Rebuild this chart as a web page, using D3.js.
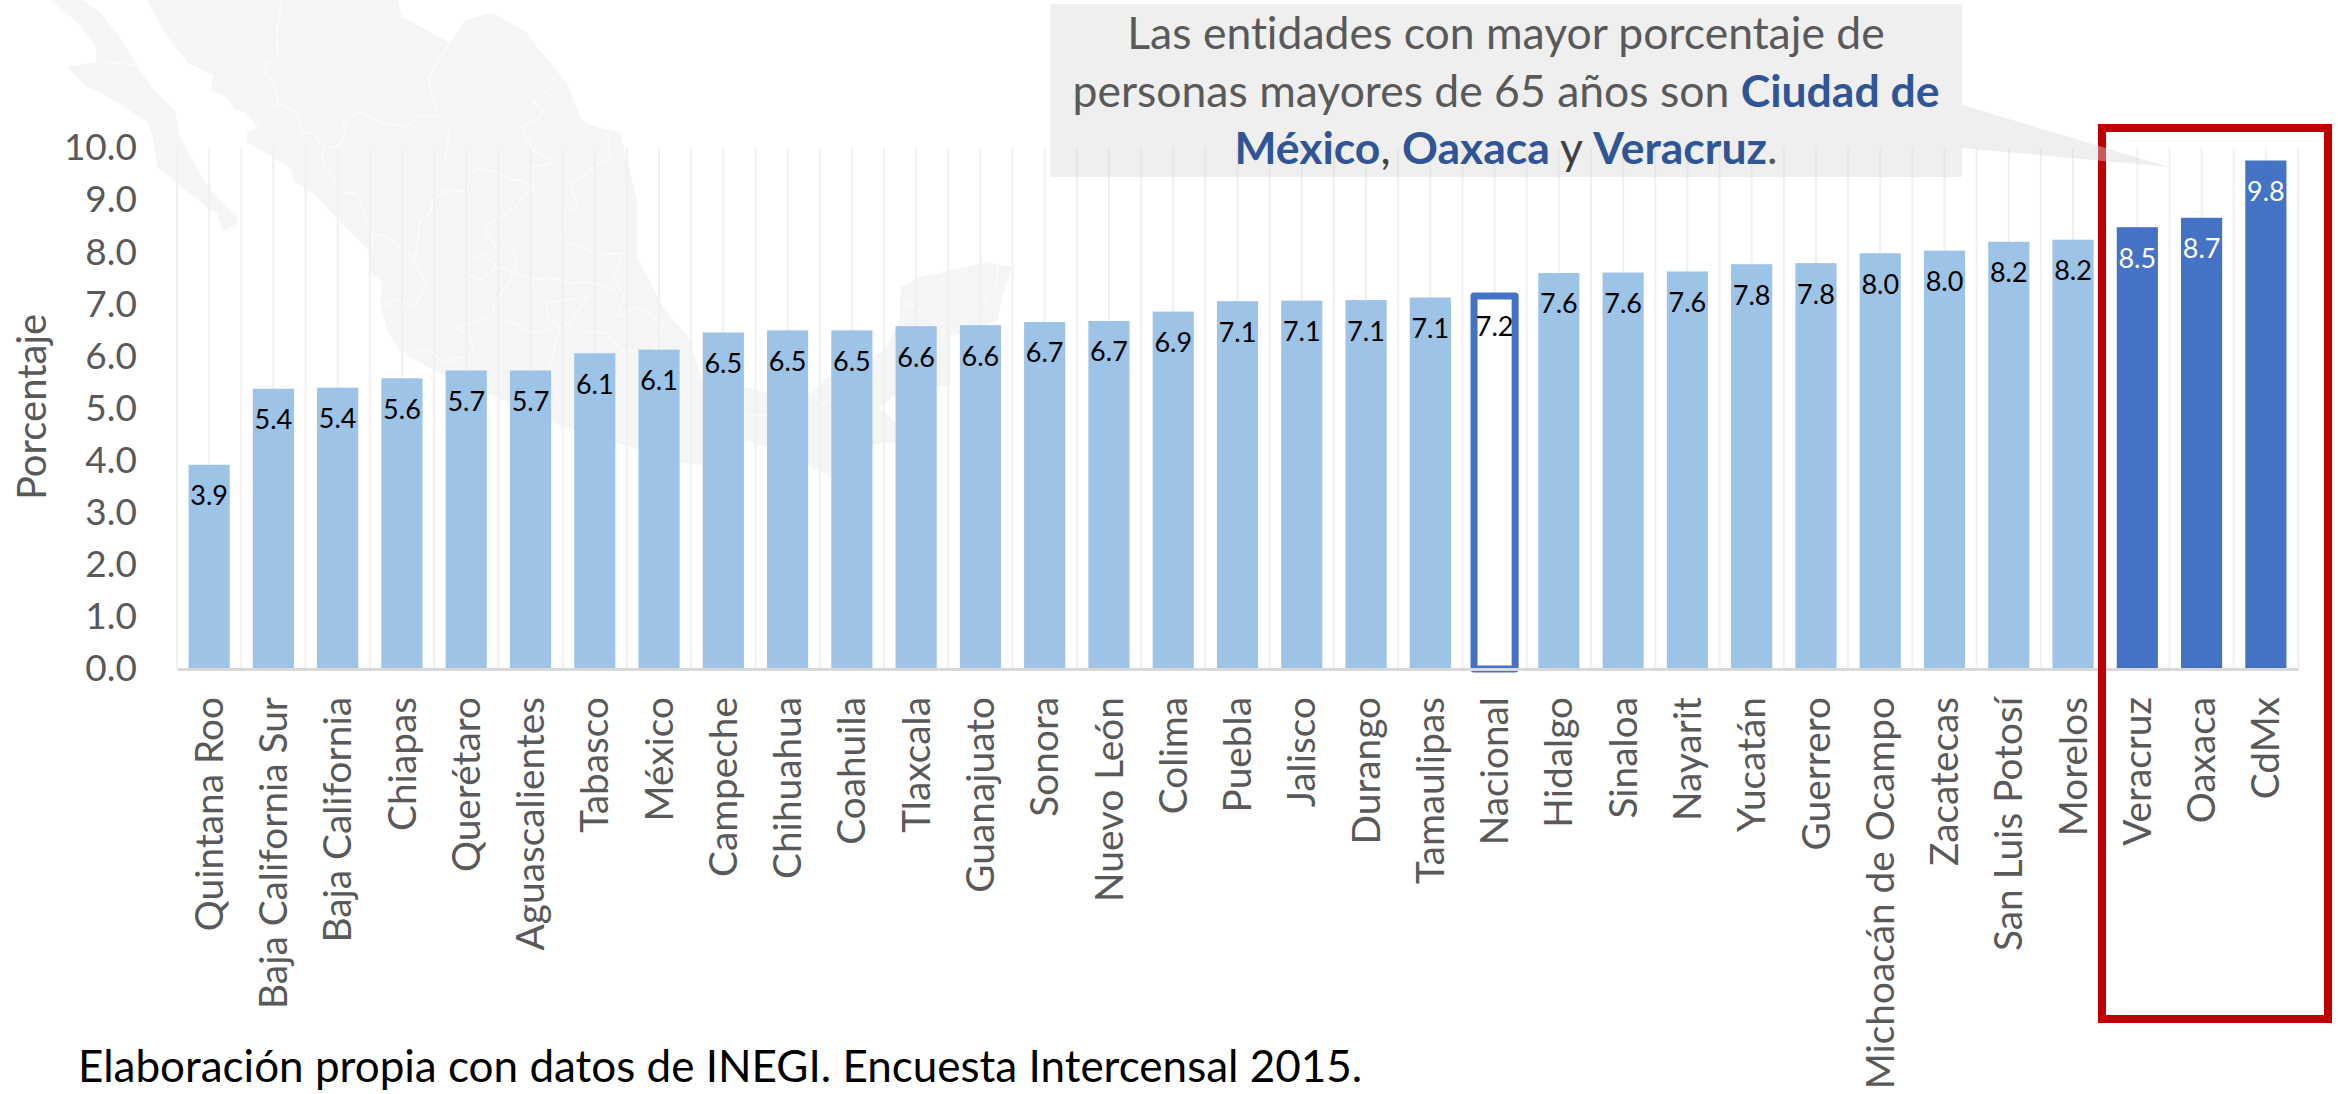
<!DOCTYPE html>
<html>
<head>
<meta charset="utf-8">
<script src="https://cdn.jsdelivr.net/npm/d3@7"></script>
<style>
body{margin:0;background:#fff;}
text{font-family:Lato,"Open Sans",sans-serif;font-variant-ligatures:none;}
</style>
</head>
<body>
<script>
var categories=["Quintana Roo","Baja California Sur","Baja California","Chiapas","Querétaro","Aguascalientes","Tabasco","México","Campeche","Chihuahua","Coahuila","Tlaxcala","Guanajuato","Sonora","Nuevo León","Colima","Puebla","Jalisco","Durango","Tamaulipas","Nacional","Hidalgo","Sinaloa","Nayarit","Yucatán","Guerrero","Michoacán de Ocampo","Zacatecas","San Luis Potosí","Morelos","Veracruz","Oaxaca","CdMx"];
var values=[3.92,5.38,5.4,5.58,5.73,5.73,6.06,6.13,6.46,6.5,6.5,6.58,6.6,6.66,6.68,6.86,7.06,7.07,7.08,7.13,7.16,7.6,7.61,7.63,7.77,7.79,7.98,8.03,8.2,8.24,8.48,8.66,9.76];
var highlighted=["Veracruz","Oaxaca","CdMx"];
var outlined=["Nacional"];
var yTicks=[0,1,2,3,4,5,6,7,8,9,10];
var yTitle="Porcentaje";
var sourceNote="Elaboración propia con datos de INEGI. Encuesta Intercensal 2015.";
var calloutLines=[
    [["Las entidades con mayor porcentaje de",0]],
    [["personas mayores de 65 años son ",0],["Ciudad de",1]],
    [["México",1],[",",2],[" ",0],["Oaxaca",1],[" y ",2],["Veracruz",1],[".",0]]
];

// background map of Mexico (decoration only)
var mapShapes=[
    [[51,0],[80,25],[96,48],[96,62],[67,67],[85,85],[102,93],[148,122],[153,140],[157,167],[208,208],[217,213],[223,232],[237,223],[238,217],[210,190],[198,170],[180,137],[175,110],[153,90],[138,67],[120,37],[100,13],[83,0]],
    [[147,0],[162,28],[172,43],[188,63],[213,75],[210,90],[228,98],[235,110],[245,112],[257,127],[247,133],[247,142],[277,160],[292,170],[293,180],[317,197],[338,220],[368,250],[370,272],[383,283],[380,303],[388,333],[402,353],[433,370],[487,393],[563,427],[630,447],[679,463],[704,465],[747,440],[790,455],[830,477],[860,445],[900,442],[900,425],[878,408],[895,395],[950,385],[950,337],[998,320],[1002,297],[1012,267],[987,262],[921,277],[901,287],[899,320],[885,350],[867,360],[828,377],[810,393],[766,393],[747,387],[704,387],[690,340],[663,307],[637,257],[637,200],[620,133],[590,125],[580,117],[567,83],[537,47],[527,33],[493,13],[465,20],[450,43],[402,17],[398,0]]
];
var mapBorders=[
    [[100,62],[138,65]],
    [[282,0],[277,30],[278,62],[262,63],[275,87],[278,103],[255,125]],
    [[450,43],[428,78],[438,117]],
    [[278,103],[297,113],[302,133],[313,133],[323,147],[338,147],[345,133],[343,125],[358,112],[383,123],[407,127],[420,115],[438,117]],
    [[323,147],[322,163],[337,183],[338,192],[357,193],[368,228]],
    [[557,82],[533,103],[542,108],[540,117],[522,127],[533,150],[553,163],[533,167],[533,188]],
    [[438,117],[450,128],[445,160],[465,180],[468,192],[447,190],[433,200],[430,213],[420,220],[415,263],[427,287],[413,307],[397,298],[383,307]],
    [[468,177],[477,168],[497,172],[510,180],[520,180],[533,188],[512,210],[487,225],[485,233],[497,248]],
    [[608,133],[610,157],[590,170],[570,185],[578,207],[565,212],[562,242],[580,247],[600,255],[623,253],[613,280],[625,297],[617,317],[637,307],[663,323],[653,353],[620,350],[607,333],[587,332]],
    [[372,250],[373,233],[390,238],[410,255],[415,263]],
    [[467,263],[483,253],[497,267],[480,280],[465,273],[467,263]],
    [[513,250],[517,263],[510,280],[493,307],[493,317],[457,327],[470,337],[473,353],[443,363],[430,350],[403,355]],
    [[493,318],[513,323],[533,333],[560,327],[552,357],[547,373]],
    [[500,267],[533,280],[550,278],[570,283],[590,282],[613,290]],
    [[547,303],[563,300],[587,297],[570,323],[560,327],[547,317],[547,303]],
    [[998,265],[996,287],[963,323],[950,337],[921,310],[900,300]],
    [[747,415],[768,415],[815,393],[822,405],[832,397]]
];
var calloutShape=[[1050,4],[1962,4],[1962,105],[2169,167],[1962,148],[1962,177],[1050,177]];

var svgW=2338,svgH=1094;
var plot={l:177,r:2298,t:148,b:669};

var svg=d3.select("body").append("svg").attr("width",svgW).attr("height",svgH);

var line=d3.line();

// map goes first, everything else sits on top of it
var map_g=svg.append("g").attr("id","map");
map_g.selectAll("path.land").data(mapShapes).enter().append("path")
    .attr("class","land")
    .attr("d",function (d) {return line(d)+"Z";})
    .attr("fill","#f5f5f5");
map_g.selectAll("path.border").data(mapBorders).enter().append("path")
    .attr("class","border")
    .attr("d",line)
    .attr("fill","none")
    .attr("stroke","#fbfbfb")
    .attr("stroke-width",1.6);

var x=d3.scaleBand().domain(categories).range([plot.l,plot.r]).paddingInner(0.36).paddingOuter(0.18);
var y=d3.scaleLinear().domain([0,10]).range([plot.b,plot.t]);
var step=x.step();

// gridlines at every band centre and every band edge
var gridX=[plot.l];
categories.forEach(function (c) {
    gridX.push(x(c)+x.bandwidth()/2);
    gridX.push(x(c)+x.bandwidth()/2+step/2);
});
svg.append("g").selectAll("line").data(gridX).enter().append("line")
    .attr("x1",function (d) {return d;})
    .attr("x2",function (d) {return d;})
    .attr("y1",plot.t)
    .attr("y2",plot.b)
    .attr("stroke","#f0f0f0")
    .attr("stroke-width",2);

function barColor(c) {
    if(highlighted.indexOf(c)>=0){
        return "#4472c4"
    }
    if(outlined.indexOf(c)>=0){
        return "#fff"
    }
    return "#9dc3e6"
}

svg.append("g").selectAll("rect").data(categories).enter().append("rect")
    .attr("x",function (d) {return x(d);})
    .attr("y",function (d,i) {return y(values[i]);})
    .attr("width",x.bandwidth())
    .attr("height",function (d,i) {return y(0)-y(values[i]);})
    .attr("fill",barColor)
    .attr("stroke",function (d) {return outlined.indexOf(d)>=0?"#4472c4":"none";})
    .attr("stroke-width",7)
    .attr("stroke-linejoin","round");

svg.append("g").selectAll("text").data(categories).enter().append("text")
    .attr("x",function (d) {return x(d)+x.bandwidth()/2;})
    .attr("y",function (d,i) {return y(values[i])+31;})
    .attr("dy","0.35em")
    .attr("text-anchor","middle")
    .attr("font-size",27)
    .attr("fill",function (d) {return highlighted.indexOf(d)>=0?"#fff":"#000";})
    .text(function (d,i) {return values[i].toFixed(1);});

var yAxis=svg.append("g")
    .attr("transform","translate("+plot.l+",0)")
    .call(d3.axisLeft(y).tickValues(yTicks).tickSize(0).tickPadding(40).tickFormat(d3.format(".1f")));
yAxis.select(".domain").remove();
yAxis.selectAll("text").attr("font-size",37).attr("fill","#595959").style("font-family","Lato");

var xAxis=svg.append("g")
    .attr("transform","translate(0,"+plot.b+")")
    .call(d3.axisBottom(x).tickSize(0));
xAxis.select(".domain").attr("stroke","#d9d9d9").attr("stroke-width",3);
xAxis.selectAll("text")
    .attr("transform","rotate(-90)")
    .attr("x",-28)
    .attr("y",0)
    .attr("dy","0.35em")
    .attr("text-anchor","end")
    .attr("font-size",38.8)
    .attr("fill","#595959")
    .style("font-family","Lato");

svg.append("text")
    .attr("transform","translate(32,407) rotate(-90)")
    .attr("dy","0.35em")
    .attr("text-anchor","middle")
    .attr("font-size",40)
    .attr("fill","#595959")
    .text(yTitle);

svg.append("text")
    .attr("x",78)
    .attr("y",1082)
    .attr("font-size",44)
    .attr("fill","#000")
    .text(sourceNote);

// red frame around the top three
svg.append("rect")
    .attr("x",2102)
    .attr("y",128)
    .attr("width",226)
    .attr("height",891)
    .attr("fill","none")
    .attr("stroke","#c00000")
    .attr("stroke-width",8);

svg.append("path")
    .attr("d",line(calloutShape)+"Z")
    .attr("fill","#d9d9d9")
    .attr("fill-opacity",0.42);

var spanColors=["#595959","#2f5597","#404040"];
var callout=svg.append("text")
    .attr("text-anchor","middle")
    .attr("font-size",44.5)
    .attr("fill","#595959");
calloutLines.forEach(function (spans,i) {
    var row=callout.append("tspan").attr("x",1506).attr("y",49+57.5*i);
    spans.forEach(function (s) {
        row.append("tspan")
            .attr("fill",spanColors[s[1]])
            .attr("font-weight",s[1]==1?"bold":"normal")
            .attr("xml:space","preserve")
            .style("white-space","pre")
            .text(s[0]);
    });
});
</script>
</body>
</html>
